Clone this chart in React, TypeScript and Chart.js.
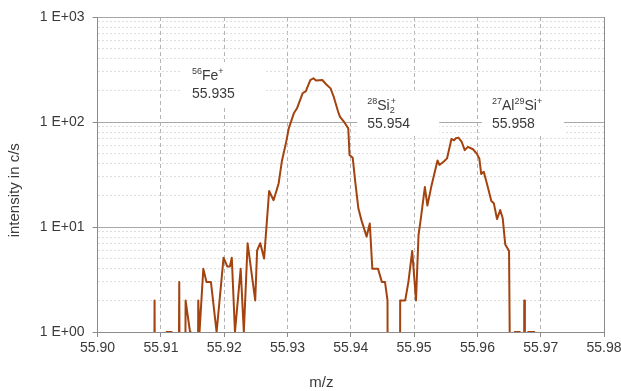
import { useEffect, useRef } from 'react';
import { Chart, registerables } from 'chart.js';

Chart.register(...registerables);

// ---- data ----
const mz = [
  55.9088, 55.909, 55.9092, 55.9108, 55.9109, 55.9117, 55.9118, 55.9126, 55.9129, 55.9131,
  55.9137, 55.9139, 55.9146, 55.9147, 55.9157, 55.9159, 55.9161, 55.9167, 55.9172, 55.9179,
  55.9188, 55.9199, 55.9205, 55.9209, 55.9212, 55.9217, 55.9226, 55.9231, 55.9237, 55.9249,
  55.9252, 55.9257, 55.9263, 55.9271, 55.9278, 55.9286, 55.9291, 55.9298, 55.9302, 55.931,
  55.9315, 55.9324, 55.9329, 55.9336, 55.9341, 55.9345, 55.9355, 55.9361, 55.9368, 55.9373,
  55.938, 55.9383, 55.939, 55.9396, 55.9398, 55.9403, 55.9407, 55.9412, 55.9417, 55.9425,
  55.943, 55.9434, 55.9443, 55.9449, 55.9454, 55.9458, 55.9459, 55.9477, 55.9478, 55.9486,
  55.9491, 55.9497, 55.9503, 55.9507, 55.9511, 55.9517, 55.9521, 55.9527, 55.9537, 55.954,
  55.9547, 55.9552, 55.9559, 55.9563, 55.9566, 55.957, 55.9575, 55.958, 55.9585, 55.9593,
  55.9599, 55.9603, 55.9606, 55.961, 55.9615, 55.9622, 55.9626, 55.9631, 55.9636, 55.964,
  55.9644, 55.965, 55.9655, 55.9659, 55.9667, 55.9668, 55.9673, 55.9674, 55.9675, 55.968,
  55.969, 55.9691,
];
const intensity = [
  0, 2, 0, 0, 1, 1, 0, 0, 3, 0,
  0, 2, 1, 0, 0, 2, 1, 4, 3, 3,
  1, 5.1, 4.2, 4.2, 5.1, 1, 4, 1, 7, 2,
  6, 7, 5, 22, 18, 26, 42, 65, 87, 121,
  135, 188, 197, 251, 261, 248, 251, 229, 209, 174,
  125, 112, 99, 87, 48.5, 45.7, 27, 15, 11.5, 8.1,
  10.8, 4, 4, 3, 3, 2, 0, 0, 2, 2,
  3, 5.9, 2, 8.4, 12.5, 24, 16, 24, 43, 39,
  42, 45, 69, 67, 70, 71, 65, 54, 58, 55,
  50, 45, 32, 33.6, 26, 17.7, 16.8, 11.9, 14.5, 12.1,
  6.8, 5.9, 0, 1, 1, 0, 0, 2, 0, 1,
  1, 0,
];

const xTickValues = [55.9, 55.91, 55.92, 55.93, 55.94, 55.95, 55.96, 55.97, 55.98];
const yDecades = [1, 10, 100, 1000];
const yTickLabels = ['1 E+00', '1 E+01', '1 E+02', '1 E+03'];
const yMinorSteps = [2, 3, 4, 5, 6, 7, 8, 9];

const xTitle = 'm/z';
const yTitle = 'intensity in c/s';

type Part = { t: string; k: 'n' | 'sup' | 'sub'; s?: string };
const peakLabels: { mz: number; intensity: number; formula: Part[]; mass: string }[] = [
  {
    mz: 55.9149, intensity: 280, mass: '55.935',
    formula: [{ t: '56', k: 'sup' }, { t: 'Fe', k: 'n' }, { t: '+', k: 'sup' }],
  },
  {
    mz: 55.9426, intensity: 145, mass: '55.954',
    formula: [{ t: '28', k: 'sup' }, { t: 'Si', k: 'n' }, { t: '2', k: 'sub', s: '+' }],
  },
  {
    mz: 55.9623, intensity: 145, mass: '55.958',
    formula: [{ t: '27', k: 'sup' }, { t: 'Al', k: 'n' }, { t: '29', k: 'sup' }, { t: 'Si', k: 'n' }, { t: '+', k: 'sup' }],
  },
];

// zero counts cannot sit on a log axis: they are drawn below the floor and clipped
const ZERO_FLOOR = 1e-3;

const FONT = '"Liberation Sans", Arial, sans-serif';
const LINE_COLOR = '#a3430f';
const TEXT_COLOR = '#3a3a3a';
const AXIS_COLOR = '#8c8c8c';

const yTickValues: number[] = [];
yDecades.forEach((d, i) => {
  yTickValues.push(d);
  if (i < yDecades.length - 1) yMinorSteps.forEach((m) => yTickValues.push(d * m));
});
const isDecade = (v: number) => yDecades.indexOf(v) >= 0;

const labelPlugin = {
  id: 'peakLabels',
  beforeDatasetsDraw(chart: any) {
    const { ctx, chartArea } = chart;
    const xs = chart.scales.x;
    const ys = chart.scales.y;
    ctx.save();
    // right border of plot area
    ctx.strokeStyle = AXIS_COLOR;
    ctx.lineWidth = 1;
    ctx.beginPath();
    ctx.moveTo(Math.round(chartArea.right) + 0.5, chartArea.top);
    ctx.lineTo(Math.round(chartArea.right) + 0.5, chartArea.bottom);
    ctx.stroke();

    peakLabels.forEach((l) => {
      const x0 = xs.getPixelForValue(l.mz);
      const yc = ys.getPixelForValue(l.intensity);
      ctx.fillStyle = '#ffffff';
      ctx.fillRect(x0 - 10, yc - 13, 82, 44);
      ctx.fillStyle = TEXT_COLOR;
      ctx.textBaseline = 'alphabetic';
      ctx.textAlign = 'left';
      const base = yc + 5;
      let x = x0;
      l.formula.forEach((p) => {
        if (p.k === 'n') {
          ctx.font = `14px ${FONT}`;
          ctx.fillText(p.t, x, base);
          x += ctx.measureText(p.t).width;
        } else if (p.k === 'sup') {
          ctx.font = `9px ${FONT}`;
          ctx.fillText(p.t, x, base - 6);
          x += ctx.measureText(p.t).width;
        } else {
          ctx.font = `9px ${FONT}`;
          ctx.fillText(p.t, x, base + 3);
          let w = ctx.measureText(p.t).width;
          if (p.s) {
            ctx.fillText(p.s, x + 1, base - 6);
            w = Math.max(w, ctx.measureText(p.s).width + 1);
          }
          x += w;
        }
      });
      ctx.font = `14px ${FONT}`;
      ctx.fillText(l.mass, x0, base + 18);
    });
    ctx.restore();
  },
  afterDraw(chart: any) {
    const { ctx, chartArea } = chart;
    ctx.save();
    ctx.fillStyle = TEXT_COLOR;
    ctx.font = `15px ${FONT}`;
    ctx.textAlign = 'center';
    ctx.textBaseline = 'middle';
    ctx.fillText(xTitle, chartArea.left + chartArea.width * 0.442, chartArea.bottom + 51);
    ctx.translate(15, chartArea.top + chartArea.height * 0.55);
    ctx.rotate(-Math.PI / 2);
    ctx.fillText(yTitle, 0, 0);
    ctx.restore();
  },
};

export default function App() {
  const ref = useRef<HTMLCanvasElement>(null);
  useEffect(() => {
    document.body.style.margin = '0';
    const canvas = ref.current;
    if (!canvas) return;
    const points = mz.map((x, i) => ({ x, y: intensity[i] > 0 ? intensity[i] : ZERO_FLOOR }));
    const chart = new Chart(canvas, {
      type: 'line',
      data: {
        datasets: [
          {
            data: points,
            borderColor: LINE_COLOR,
            borderWidth: 2,
            pointRadius: 0,
            tension: 0,
            clip: 0,
            borderJoinStyle: 'round',
            fill: false,
          } as any,
        ],
      },
      options: {
        animation: false,
        responsive: true,
        maintainAspectRatio: false,
        layout: { padding: { left: 0, right: 0, top: 17, bottom: 0 } },
        plugins: { legend: { display: false }, tooltip: { enabled: false } },
        scales: {
          x: {
            type: 'linear',
            min: 55.9,
            max: 55.98,
            afterBuildTicks: (s: any) => {
              s.ticks = xTickValues.map((v) => ({ value: v }));
            },
            afterFit: (s: any) => {
              s.height = 59;
              s.paddingRight = 17;
            },
            ticks: {
              autoSkip: false,
              maxRotation: 0,
              padding: 3,
              color: TEXT_COLOR,
              font: { family: FONT, size: 14 },
              callback: (v: any) => Number(v).toFixed(2),
            },
            grid: {
              color: (c: any) =>
                c.index === 0 || c.index === xTickValues.length - 1 ? 'rgba(0,0,0,0)' : '#b4b4b4',
              lineWidth: 1,
              tickColor: AXIS_COLOR,
              tickLength: 5,
            },
            border: {
              color: AXIS_COLOR,
              dash: (c: any) => (c && c.tick ? [4, 3] : []),
            } as any,
          },
          y: {
            type: 'logarithmic',
            min: 1,
            max: 1000,
            afterBuildTicks: (s: any) => {
              s.ticks = yTickValues.map((v) => ({ value: v, major: isDecade(v) }));
            },
            afterFit: (s: any) => {
              s.width = 97.6;
            },
            ticks: {
              autoSkip: false,
              padding: 8,
              color: TEXT_COLOR,
              font: { family: FONT, size: 14 },
              callback: (v: any) => {
                const i = yDecades.indexOf(Number(v));
                return i >= 0 ? yTickLabels[i] : '';
              },
            },
            grid: {
              color: (c: any) => (c.tick && isDecade(c.tick.value) ? '#a8a8a8' : '#dedede'),
              lineWidth: 1,
              tickColor: (c: any) => (c.tick && isDecade(c.tick.value) ? AXIS_COLOR : 'rgba(0,0,0,0)'),
              tickLength: 5,
            },
            border: {
              color: AXIS_COLOR,
              dash: (c: any) => (c && c.tick && !isDecade(c.tick.value) ? [2, 2] : []),
            } as any,
          },
        },
      } as any,
      plugins: [labelPlugin],
    });
    return () => chart.destroy();
  }, []);
  return (
    <div style={{ width: 621, height: 391, position: 'relative' }}>
      <canvas ref={ref} />
    </div>
  );
}
